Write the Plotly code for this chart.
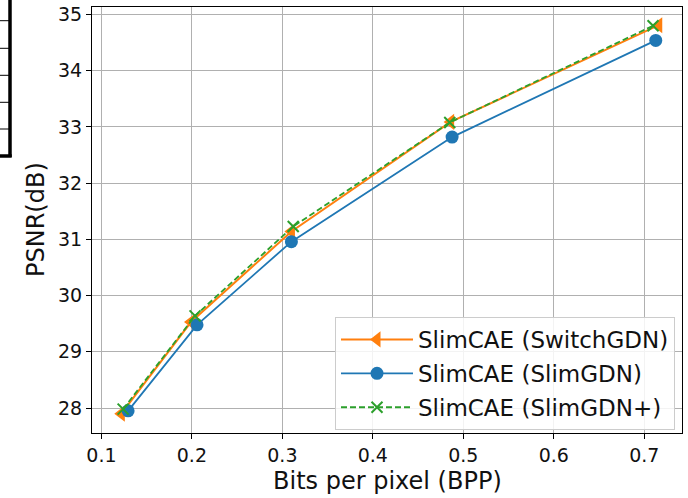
import plotly.graph_objects as go

# ---- data ----
labels = ["SlimCAE (SwitchGDN)", "SlimCAE (SlimGDN)", "SlimCAE (SlimGDN+)"]
bpp_switch = [0.122, 0.199, 0.310, 0.486, 0.716]
psnr_switch = [27.90, 29.53, 31.14, 33.09, 34.81]
bpp_slim = [0.1295, 0.2057, 0.310, 0.4876, 0.7127]
psnr_slim = [27.95, 29.48, 30.96, 32.82, 34.54]
bpp_plus = [0.124, 0.2035, 0.312, 0.485, 0.7097]
psnr_plus = [27.98, 29.64, 31.23, 33.08, 34.80]
x_ticks = [0.1, 0.2, 0.3, 0.4, 0.5, 0.6, 0.7]
y_ticks = [28, 29, 30, 31, 32, 33, 34, 35]
x_title = "Bits per pixel (BPP)"
y_title = "PSNR(dB)"

ORANGE, BLUE, GREEN = "#ff7f0e", "#1f77b4", "#2ca02c"
FONT = "DejaVu Sans"

W, H = 688, 498
L, R, T, B = 92, 6, 7, 65

fig = go.Figure()
fig.add_trace(go.Scatter(
    x=bpp_switch, y=psnr_switch, name=labels[0], mode="lines+markers",
    line=dict(color=ORANGE, width=2),
    marker=dict(symbol="triangle-left", size=14, color=ORANGE),
    legendgroup="a"))
fig.add_trace(go.Scatter(
    x=bpp_slim, y=psnr_slim, name=labels[1], mode="lines+markers",
    line=dict(color=BLUE, width=1.8),
    marker=dict(symbol="circle", size=13, color=BLUE),
    legendgroup="b"))
fig.add_trace(go.Scatter(
    x=bpp_plus, y=psnr_plus, name=labels[2], mode="lines+markers",
    line=dict(color=GREEN, width=1.8, dash="6px,3px"),
    marker=dict(symbol="x-thin", size=11, color=GREEN,
                line=dict(color=GREEN, width=2)),
    legendgroup="c"))

axis_common = dict(
    showgrid=True, gridcolor="#b0b0b0", gridwidth=1.3,
    showline=True, linecolor="black", linewidth=1.2, mirror=True,
    ticks="outside", ticklen=5, tickwidth=1.2, tickcolor="black",
    tickfont=dict(family=FONT, size=19, color="#111"),
    zeroline=False, automargin=False,
)

fig.update_xaxes(range=[0.0896, 0.7417], tickvals=x_ticks,
                 ticktext=[f"{v:.1f}" for v in x_ticks], **axis_common)
fig.update_yaxes(range=[27.556, 35.134], tickvals=y_ticks, **axis_common)

pw, ph = W - L - R, H - T - B
def px(xp):
    return (xp - L) / pw
def py(yp):
    return (H - B - yp) / ph

annotations = [
    dict(text=x_title, xref="paper", yref="paper", x=0.5, y=py(481),
         xanchor="center", yanchor="middle", showarrow=False,
         font=dict(family=FONT, size=24, color="#111")),
    dict(text=y_title, xref="paper", yref="paper", x=px(36), y=0.5,
         xanchor="center", yanchor="middle", showarrow=False, textangle=-90,
         font=dict(family=FONT, size=24, color="#111")),
]

# cropped-table remnant at the far left of the reference image
shapes = [
    dict(type="line", xref="paper", yref="paper", x0=px(10), x1=px(10),
         y0=py(0), y1=py(157), line=dict(color="black", width=3.5)),
    dict(type="line", xref="paper", yref="paper", x0=px(0), x1=px(11.7),
         y0=py(156), y1=py(156), line=dict(color="black", width=3.5)),
]
for yy in [20.7, 48.3, 75.3, 102.3, 129]:
    shapes.append(dict(type="line", xref="paper", yref="paper",
                       x0=px(0), x1=px(9), y0=py(yy), y1=py(yy),
                       line=dict(color="black", width=1)))

fig.update_layout(
    width=W, height=H, autosize=False,
    margin=dict(l=L, r=R, t=T, b=B),
    paper_bgcolor="white", plot_bgcolor="white",
    font=dict(family=FONT, color="#111"),
    shapes=shapes, annotations=annotations,
    legend=dict(x=px(675), xanchor="right", y=py(430), yanchor="bottom",
                bgcolor="rgba(255,255,255,0.85)", bordercolor="#cccccc",
                borderwidth=1, font=dict(family=FONT, size=23, color="#111"),
                traceorder="grouped", tracegroupgap=1, itemwidth=72),
    showlegend=True,
)

fig.write_html("out.html")
